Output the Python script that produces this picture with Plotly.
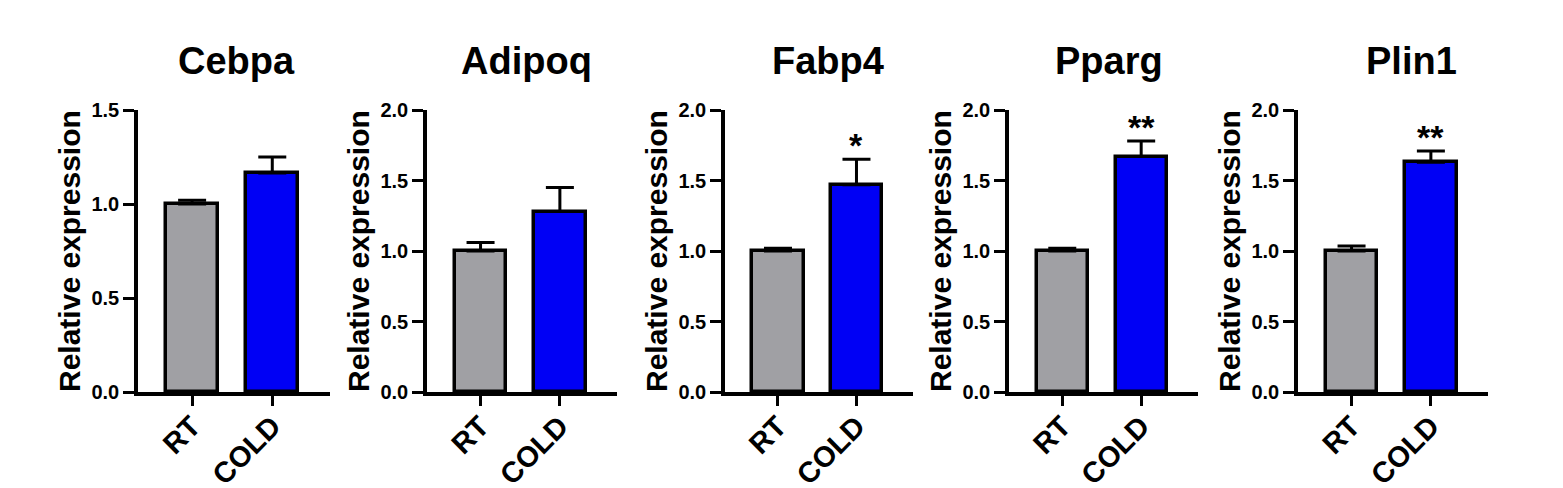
import plotly.graph_objects as go

# ---------------- data ----------------
genes = ["Cebpa", "Adipoq", "Fabp4", "Pparg", "Plin1"]
groups = ["RT", "COLD"]
rt_mean = [1.00, 1.00, 1.00, 1.00, 1.00]
rt_err = [0.02, 0.06, 0.02, 0.02, 0.035]
cold_mean = [1.165, 1.28, 1.47, 1.67, 1.63]
cold_err = [0.085, 0.17, 0.18, 0.11, 0.08]
significance = ["", "", "*", "**", "**"]
y_max = [1.5, 2.0, 2.0, 2.0, 2.0]
y_ticks = [0.0, 0.5, 1.0, 1.5, 2.0]

# ---------------- style / layout ----------------
W, H = 1563, 488
GRAY = "#a0a0a4"
BLUE = "#0000f5"
FONT = "Liberation Sans"
axis_left_px = [138, 427, 725, 1009, 1298]
axis_right_px = [330, 617, 913, 1198, 1488]
title_center_px = [237, 526, 828, 1109, 1411]
y_bottom_px, y_top_px = 392, 110

fig = go.Figure()
ydom = [(H - y_bottom_px) / H, (H - y_top_px) / H]

for i, g in enumerate(genes):
    n = "" if i == 0 else str(i + 1)
    xa, ya = "x" + n, "y" + n
    fig.add_trace(go.Bar(
        x=groups, y=[rt_mean[i], cold_mean[i]],
        xaxis=xa, yaxis=ya, width=0.65,
        marker=dict(color=[GRAY, BLUE], line=dict(color="black", width=3.5)),
        error_y=dict(type="data", symmetric=False,
                     array=[rt_err[i], cold_err[i]], arrayminus=[0, 0],
                     color="black", thickness=3, width=14),
        showlegend=False,
    ))
    dom = [axis_left_px[i] / W, axis_right_px[i] / W]
    fig.update_layout(**{
        "xaxis" + n: dict(
            domain=dom, anchor=ya, type="category", automargin=False,
            categoryorder="array", categoryarray=groups,
            range=[-0.675, 1.72], showline=True, linewidth=3.5, linecolor="black",
            ticks="outside", ticklen=10, tickwidth=3, tickcolor="black",
            tickangle=-45, showgrid=False, zeroline=False, ticklabelstandoff=-8,
            tickfont=dict(family=FONT, size=29, color="black", weight="bold"),
        ),
        "yaxis" + n: dict(
            domain=ydom, anchor=xa, range=[0, y_max[i]], automargin=False,
            tickvals=[t for t in y_ticks if t <= y_max[i] + 1e-9],
            tickformat=".1f", showline=True, linewidth=3.5, linecolor="black",
            ticks="outside", ticklen=11, tickwidth=3, tickcolor="black",
            showgrid=False, zeroline=False,
            tickfont=dict(family=FONT, size=20, color="black", weight="bold"),
        ),
    })
    # panel title
    fig.add_annotation(
        text=g, xref="paper", yref="paper",
        x=title_center_px[i] / W, y=(H - 61) / H,
        xanchor="center", yanchor="middle", showarrow=False,
        font=dict(family=FONT, size=38, color="black", weight="bold"),
    )
    # y axis title
    fig.add_annotation(
        text="Relative expression", xref="paper", yref="paper",
        x=(axis_left_px[i] - 69) / W, y=sum(ydom) / 2, textangle=-90,
        xanchor="center", yanchor="middle", showarrow=False,
        font=dict(family=FONT, size=30, color="black", weight="bold"),
    )
    if significance[i]:
        fig.add_annotation(
            text=significance[i], xref=xa, yref=ya,
            x="COLD", y=cold_mean[i] + cold_err[i],
            xanchor="center", yanchor="bottom", yshift=-7, showarrow=False,
            font=dict(family=FONT, size=34, color="black", weight="bold"),
        )

fig.update_layout(
    width=W, height=H, autosize=False,
    margin=dict(l=0, r=0, t=0, b=0, autoexpand=False),
    paper_bgcolor="white", plot_bgcolor="white",
    bargap=0,
)

fig.write_html(
    "out.html",
    config={"displayModeBar": False},
    post_script="document.body.style.margin='0';document.body.style.overflow='hidden';",
)
